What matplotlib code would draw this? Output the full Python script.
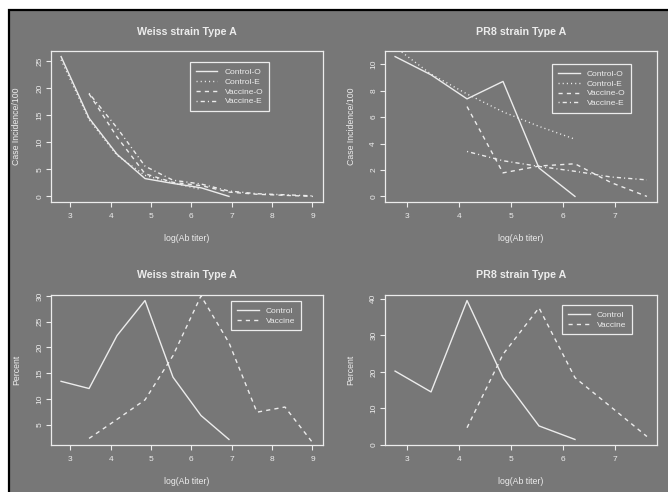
"""
Case incidence and titer distributions, Weiss and PR8 strains
"""

import matplotlib
matplotlib.use('Agg')
import matplotlib.pyplot as plt
from matplotlib.patches import Rectangle
import numpy as np

plt.rcParams['font.family'] = ['Liberation Sans', 'DejaVu Sans']

BG = '#777777'
FG = '#ececec'

# antibody titers (1:16 ... 1:8192), plotted on a log scale
titers = [16, 32, 64, 128, 256, 512, 1024, 2048, 4096, 8192]

# Weiss strain, case incidence per 100
weiss_ctrl_obs = [25.9, 14.5, 7.8, 3.3, 2.4, 1.6, 0.0]
weiss_ctrl_exp = [25.3, 14.2, 7.6, 3.9, 2.5, 1.3]
weiss_vacc_obs = [19.0, 11.0, 4.2, 2.6, 2.0, 0.8, 0.4, 0.2, 0.0]
weiss_vacc_exp = [19.1, 12.7, 5.6, 3.0, 2.3, 1.0, 0.5, 0.3, 0.1]

# PR8 strain, case incidence per 100
pr8_ctrl_obs = [10.58, 9.2, 7.38, 8.7, 2.15, 0.0]
pr8_ctrl_exp = [11.3, 9.25, 7.75, 6.4, 5.3, 4.33]
pr8_vacc_obs = [6.8, 1.78, 2.3, 2.47, 1.05, 0.0]
pr8_vacc_exp = [3.4, 2.7, 2.27, 1.9, 1.47, 1.25]

# percent of subjects at each titer
weiss_ctrl_pct = [13.4, 12.0, 22.3, 29.1, 14.2, 6.75, 2.1]
weiss_vacc_pct = [2.3, 6.0, 9.8, 18.4, 30.0, 20.9, 7.4, 8.4, 1.4]
pr8_ctrl_pct = [20.2, 14.5, 39.5, 18.4, 5.2, 1.5]
pr8_vacc_pct = [4.7, 24.8, 37.5, 18.4, 10.4, 2.3]

logt = np.log(titers)

styles = {
    'solid': '-',
    'dotted': (0, (0.8, 2.2)),
    'dashed': (0, (3, 3)),
    'dotdash': (0, (0.8, 2.2, 3, 2.2)),
}


def r_range(v):
    # R-style 4% padding around the data range
    lo, hi = min(v), max(v)
    d = (hi - lo) * 0.04
    return lo - d, hi + d


def setup(ax, title, ylabel, xs, ylim_data, xticks, yticks):
    ax.set_facecolor(BG)
    ax.set_xlim(*r_range(xs))
    ax.set_ylim(*r_range(ylim_data))
    for s in ax.spines.values():
        s.set_color(FG)
        s.set_linewidth(0.9)
    ax.set_xticks(xticks)
    ax.set_yticks(yticks)
    ax.tick_params(colors=FG, labelcolor=FG, labelsize=6, length=3.6,
                   width=0.8, direction='out')
    ax.tick_params(axis='x', pad=4.5)
    ax.tick_params(axis='y', pad=2, labelrotation=90)
    for lab in ax.get_yticklabels():
        lab.set_va('center')
    w = ax.get_position().width * 668
    h = ax.get_position().height * 492
    ax.set_xlabel('log(Ab titer)', color=FG, fontsize=6.3)
    ax.xaxis.label.set_va('center')
    ax.xaxis.set_label_coords(0.5, -36 / h)
    ax.set_ylabel(ylabel, color=FG, fontsize=6.3)
    ax.yaxis.label.set_va('center')
    ax.yaxis.set_label_coords(-34 / w, 0.5)
    ax.text(0.5, 1 + 19.5 / h, title, transform=ax.transAxes, ha='center',
            va='center', color=FG, fontsize=7.7, fontweight='bold')


def legend(ax, anchor):
    leg = ax.legend(loc='upper left', bbox_to_anchor=anchor, fontsize=6,
                    frameon=True, fancybox=False, facecolor=BG, edgecolor=FG,
                    framealpha=1, handlelength=2.6, handletextpad=0.9,
                    labelspacing=0.25, borderpad=0.7, borderaxespad=0)
    leg.get_frame().set_linewidth(0.9)
    for t in leg.get_texts():
        t.set_color(FG)


fig = plt.figure(figsize=(6.68, 4.92), dpi=100)
fig.patch.set_facecolor('white')
fig.patches.append(Rectangle((8.5 / 668, -0.05), 1.1, 1.05 - 9.5 / 492,
                             transform=fig.transFigure, facecolor=BG,
                             edgecolor='black', linewidth=1.6, zorder=-1))

W, H = 272 / 668, 151 / 492
ax1 = fig.add_axes([51 / 668, 1 - 202 / 492, W, H])
ax2 = fig.add_axes([385 / 668, 1 - 202 / 492, W, H])
ax3 = fig.add_axes([51 / 668, 1 - 445 / 492, W, 150 / 492])
ax4 = fig.add_axes([385 / 668, 1 - 445 / 492, W, 150 / 492])

lw = 1.0

# Weiss, case incidence
setup(ax1, 'Weiss strain Type A', 'Case Incidence/100', logt[:10],
      weiss_ctrl_obs, range(3, 10), range(0, 30, 5))
ax1.plot(logt[:7], weiss_ctrl_obs, color=FG, lw=lw, ls=styles['solid'], label='Control-O')
ax1.plot(logt[:6], weiss_ctrl_exp, color=FG, lw=lw, ls=styles['dotted'], label='Control-E')
ax1.plot(logt[1:10], weiss_vacc_obs, color=FG, lw=lw, ls=styles['dashed'], label='Vaccine-O')
ax1.plot(logt[1:10], weiss_vacc_exp, color=FG, lw=lw, ls=styles['dotdash'], label='Vaccine-E')
legend(ax1, (0.511, 0.927))

# PR8, case incidence
setup(ax2, 'PR8 strain Type A', 'Case Incidence/100', logt[:8],
      pr8_ctrl_obs, range(3, 8), range(0, 11, 2))
ax2.plot(logt[:6], pr8_ctrl_obs, color=FG, lw=lw, ls=styles['solid'], label='Control-O')
ax2.plot(logt[:6], pr8_ctrl_exp, color=FG, lw=lw, ls=styles['dotted'], label='Control-E')
ax2.plot(logt[2:8], pr8_vacc_obs, color=FG, lw=lw, ls=styles['dashed'], label='Vaccine-O')
ax2.plot(logt[2:8], pr8_vacc_exp, color=FG, lw=lw, ls=styles['dotdash'], label='Vaccine-E')
legend(ax2, (0.614, 0.914))

# Weiss, percent
setup(ax3, 'Weiss strain Type A', 'Percent', logt[:10],
      weiss_ctrl_pct, range(3, 10), range(5, 31, 5))
ax3.plot(logt[:7], weiss_ctrl_pct, color=FG, lw=lw, ls=styles['solid'], label='Control')
ax3.plot(logt[1:10], weiss_vacc_pct, color=FG, lw=lw, ls=styles['dashed'], label='Vaccine')
legend(ax3, (0.662, 0.96))

# PR8, percent
setup(ax4, 'PR8 strain Type A', 'Percent', logt[:8],
      pr8_ctrl_pct, range(3, 8), range(0, 41, 10))
ax4.plot(logt[:6], pr8_ctrl_pct, color=FG, lw=lw, ls=styles['solid'], label='Control')
ax4.plot(logt[2:8], pr8_vacc_pct, color=FG, lw=lw, ls=styles['dashed'], label='Vaccine')
legend(ax4, (0.651, 0.933))

fig.savefig('out.png', dpi=100, facecolor=fig.get_facecolor())
